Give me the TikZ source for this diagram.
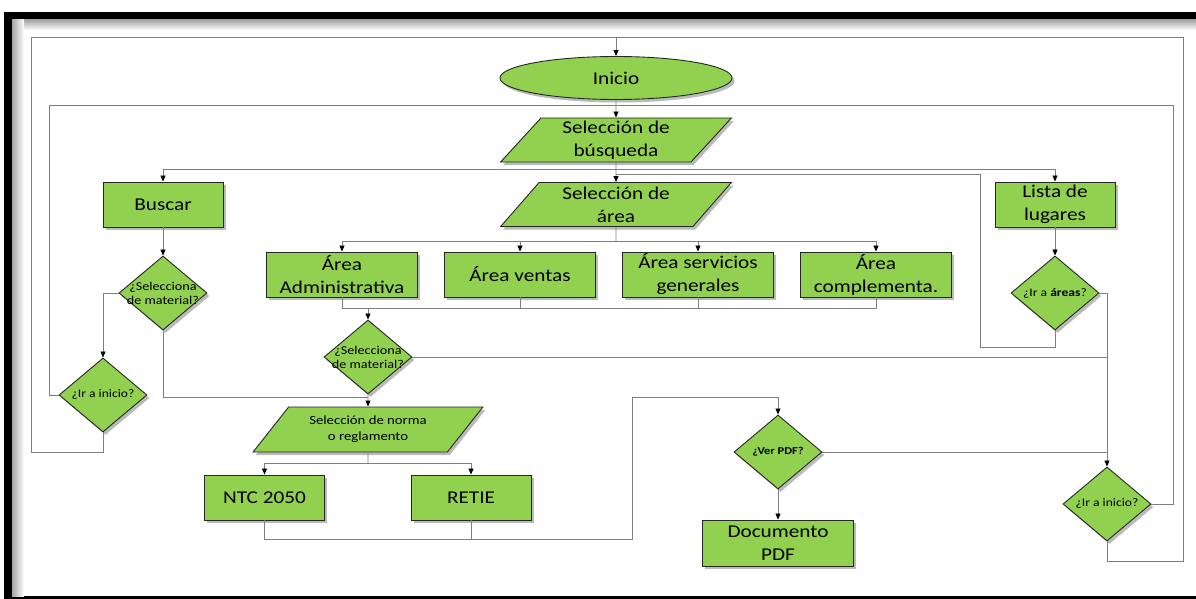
\documentclass[tikz,border=0pt]{standalone}
\usepackage{fontspec}
\setmainfont{Carlito}[FakeStretch=1.18]
\usetikzlibrary{shapes.geometric}
\usetikzlibrary{arrows.meta}
\usetikzlibrary{shadows}
\definecolor{verde}{HTML}{92D050}
\definecolor{gris}{HTML}{7F7F7F}

\begin{document}
\begin{tikzpicture}[
    x=1pt, y=-1pt, % one unit per pixel, y grows downward
    every node/.style={
        draw=black!85, % dark border
        line width=0.9pt,
        fill=verde, % office green
        align=center,
        inner sep=0pt,
        drop shadow={shadow xshift=2.5pt, shadow yshift=-3pt, opacity=0.45, fill=black!60}
    },
    proceso/.style={rectangle, minimum width=120pt, minimum height=45pt, font=\fontsize{18}{23}\selectfont},
    ancho/.style={proceso, minimum width=151pt},
    datos/.style={trapezium, trapezium left angle=53, trapezium right angle=127,
        trapezium stretches=true, minimum width=231pt, minimum height=44pt,
        font=\fontsize{18}{23}\selectfont},
    decision/.style={diamond, minimum width=88pt, minimum height=74pt, inner xsep=-14pt,
        font=\fontsize{12}{14}\selectfont},
    terminal/.style={ellipse, minimum width=232pt, minimum height=43pt, font=\fontsize{18}{23}\selectfont},
    conector/.style={draw=gris, line width=0.8pt},
    flecha/.style={conector, -{Triangle[length=6pt,width=5pt,black]}}
]
\useasboundingbox (0,0) rectangle (1196,599);

% frame
\fill[black] (4,12) rectangle (1196,20);
\fill[black] (4,12) rectangle (12,599);
\fill[black] (4,596) rectangle (1196,599);
\shade[top color=black!35, bottom color=white] (12,20) rectangle (1196,30);
\shade[left color=black!35, right color=white] (12,20) rectangle (24,596);

\node[terminal] (inicio) at (616,78) {Inicio};
\node[datos] (busqueda) at (616,140) {Selección de\\búsqueda};
\node[datos] (area) at (616,204.5) {Selección de\\área};
\node[proceso] (buscar) at (163,204.5) {Buscar};
\node[proceso] (lista) at (1055,204.5) {Lista de\\lugares};
\node[ancho] (admin) at (342,274.5) {Área\\Administrativa};
\node[ancho] (ventas) at (520,274.5) {Área ventas};
\node[ancho] (servicios) at (698,274.5) {Área servicios\\generales};
\node[ancho] (compl) at (876,274.5) {Área\\complementa.};
\node[decision] (material1) at (163,293) {¿Selecciona\\de material?};
\node[decision, font=\fontsize{11.5}{14}\selectfont] (inicio1) at (103,395) {¿Ir a inicio?};
\node[decision] (material2) at (368,357) {¿Selecciona\\de material?};
\node[decision, font=\fontsize{11.5}{14}\selectfont] (irareas) at (1055,293) {¿Ir a \textbf{áreas}?};
\node[datos, trapezium left angle=45.6, trapezium right angle=134.4, minimum width=230pt,
    minimum height=45pt, font=\fontsize{12.5}{16}\selectfont] (norma) at (368,429.5) {Selección de norma\\o reglamento};
\node[proceso] (ntc) at (264.5,497.5) {NTC 2050};
\node[proceso] (retie) at (471,497.5) {RETIE};
\node[decision, font=\fontsize{10.5}{12}\selectfont\bfseries] (verpdf) at (778,452) {¿Ver PDF?};
\node[ancho, minimum height=46pt] (pdf) at (778,543) {Documento\\PDF};
\node[decision, font=\fontsize{11.5}{14}\selectfont] (inicio2) at (1107,504) {¿Ir a inicio?};

% back to Inicio
\draw[conector] (inicio1.south) -- (103,452) -- (31,452) -- (31,37) -- (616,37);
\draw[conector] (inicio2.south) -- (1107,561) -- (1183,561) -- (1183,37) -- (616,37);
\draw[flecha] (616,37) -- (inicio.north);

% back to búsqueda
\draw[conector] (inicio1.west) -- (49,395) -- (49,105) -- (616,105);
\draw[conector] (inicio2.east) -- (1173,504) -- (1173,105) -- (616,105);
\draw[flecha] (inicio.south) -- (busqueda.north);

% búsqueda branches
\draw[conector] (busqueda.south) -- (616,169);
\draw[flecha] (616,169) -| (buscar.north);
\draw[flecha] (616,169) -| (lista.north);
\draw[flecha] (616,169) -- (area.north);
\draw[flecha] (lista) -- (irareas);
\draw[conector] (irareas.south) -- (1055,347) -- (980,347) -- (980,174) -- (616,174);

% área branches
\draw[conector] (area.south) -- (616,241);
\foreach \n in {admin,ventas,servicios,compl}
    \draw[flecha] (616,241) -| (\n.north);
\foreach \n in {admin,ventas,servicios,compl}
    \draw[conector] (\n.south) |- (368,308);
\draw[flecha] (368,308) -- (material2.north);

% Buscar column
\draw[flecha] (buscar) -- (material1);
\draw[flecha] (material1.west) -| (inicio1.north);
\draw[conector] (material1.south) |- (368,397);
\draw[flecha] (material2.south) -- (norma.north);
\draw[conector] (material2.east) -- (1107,357);
\draw[flecha] (irareas.east) -| (inicio2.north);
\draw[conector] (verpdf.east) -- (1107,452);

% norma branches
\draw[conector] (norma.south) -- (368,463);
\draw[flecha] (368,463) -| (ntc.north);
\draw[flecha] (368,463) -| (retie.north);
\draw[conector] (ntc.south) |- (632,539) -- (632,397) -- (778,397);
\draw[conector] (retie.south) -- ++(0,19);
\draw[flecha] (778,397) -- (verpdf.north);
\draw[flecha] (verpdf) -- (pdf);
\end{tikzpicture}
\end{document}
